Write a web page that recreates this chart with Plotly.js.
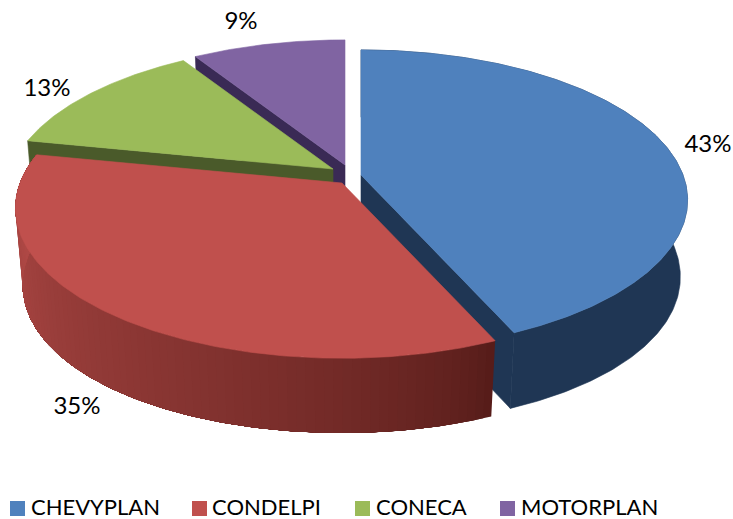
<!DOCTYPE html>
<html>
<head>
<meta charset="utf-8">
<script src="https://cdn.plot.ly/plotly-3.0.1.min.js"></script>
<style>html,body{margin:0;padding:0;background:#fff;overflow:hidden}</style>
</head>
<body>
<div id="chart" style="width:733px;height:519px"></div>
<script>
// Data
const categories = ['CHEVYPLAN', 'CONDELPI', 'CONECA', 'MOTORPLAN'];
const shares = [43.4, 34.8, 12.9, 8.9];
const shareLabels = ['43%', '35%', '13%', '9%'];

// Style
const topColors = ['#4F81BD', '#C0504D', '#9BBB59', '#8064A2'];
const wallColors = ['#1F3654', '#5A1E1B', '#4A5A2A', '#3A2A55'];
const FONT = 'Lato, "Open Sans", sans-serif';

// Projection of the tilted disc onto the axes
const K = 322, K2 = 146, P = 0.167, PB = 0.13, Q = 0.03, QX = 0.022, M = 79;
const apexX = [361, 342, 333, 345];
const apexY = [175, 183, 169, 165];
const labelX = [708, 77, 47, 241];
const labelY = [146, 408, 90, 23];
const legendX = [17.5, 199.5, 362.5, 507.5];
const legendTextX = [31, 212, 376, 521];
const legendY = 508.5;
const legendTextY = 509.5;

function project(i, deg, d) {
  const t = deg * Math.PI / 180, X = Math.sin(t), Y = -Math.cos(t);
  const wx = 1 - P * Y + QX * d;
  const wy = d ? 1 - PB * Y + Q : 1 - P * Y;
  return [apexX[i] + K * X / wx, apexY[i] + (K2 * Y + M * d) / wy];
}
function apexPt(i, d) {
  const w = 1 + Q * d;
  return [apexX[i], apexY[i] + M * d / w];
}
function arc(i, a, b, d) {
  const n = Math.max(2, Math.ceil(Math.abs(b - a) * 1.5)), out = [];
  for (let j = 0; j <= n; j++) out.push(project(i, a + (b - a) * j / n, d));
  return out;
}
function poly(pts, color, lineWidth) {
  const x = pts.map(p => p[0]).concat(pts[0][0]);
  const y = pts.map(p => p[1]).concat(pts[0][1]);
  return {type: 'scatter', mode: 'lines', x, y, fill: 'toself', fillcolor: color,
    line: {color, width: lineWidth === undefined ? 0.6 : lineWidth}, hoverinfo: 'skip', showlegend: false};
}
function mix(c1, c2, f) {
  return 'rgb(' + c1.map((v, i) => Math.round(v + (c2[i] - v) * f)).join(',') + ')';
}

const total = shares.reduce((a, b) => a + b, 0);
const starts = [], ends = [];
shares.reduce((acc, v, i) => {
  starts[i] = acc / total * 360; ends[i] = (acc + v) / total * 360; return acc + v;
}, 0);

const traces = [];
function wall(i, deg) {
  const a = project(i, deg, 0), b = project(i, deg, 1);
  traces.push(poly([apexPt(i, 0), a, b, apexPt(i, 1)], wallColors[i]));
}
function topFace(i) {
  traces.push(poly([apexPt(i, 0)].concat(arc(i, starts[i], ends[i], 0)), topColors[i]));
}

// Back to front
wall(3, starts[3]); topFace(3);
wall(2, starts[2]); topFace(2);
wall(0, ends[0]);
traces.push(poly(arc(0, starts[0], ends[0], 0).concat(arc(0, ends[0], starts[0], 1)), wallColors[0]));
topFace(0);

// Graded rim of the front slice: each band runs on to the far end, the next one paints over it
const sideDark = [84, 27, 24], sideLight = [180, 75, 72];
const bands = 90;
for (let b = 0; b < bands; b++) {
  const a0 = starts[1] + (ends[1] - starts[1]) * b / bands;
  traces.push(poly(arc(1, a0, ends[1], 0).concat(arc(1, ends[1], a0, 1)),
    mix(sideDark, sideLight, Math.pow((b + 0.5) / bands, 0.7)), 0));
}
topFace(1);

// Value labels
traces.push({type: 'scatter', mode: 'text', x: labelX, y: labelY, text: shareLabels,
  textposition: 'middle center', textfont: {family: FONT, size: 24, color: '#000'},
  hoverinfo: 'skip', showlegend: false});

// Legend
categories.forEach((name, i) => {
  traces.push({type: 'scatter', mode: 'markers', x: [legendX[i]], y: [legendY],
    marker: {symbol: 'square', size: 15, color: topColors[i]},
    name, hoverinfo: 'skip', showlegend: false, cliponaxis: false});
  traces.push({type: 'scatter', mode: 'text', x: [legendTextX[i]], y: [legendTextY], text: [name],
    textposition: 'middle right', textfont: {family: FONT, size: 22, color: '#000'},
    name, hoverinfo: 'skip', showlegend: false, cliponaxis: false});
});

Plotly.newPlot('chart', traces, {
  width: 733, height: 519, margin: {l: 0, r: 0, t: 0, b: 0},
  paper_bgcolor: '#fff', plot_bgcolor: '#fff', showlegend: false,
  xaxis: {range: [0, 733], visible: false, fixedrange: true},
  yaxis: {range: [519, 0], visible: false, fixedrange: true}
}, {displayModeBar: false, staticPlot: true});
</script>
</body>
</html>
